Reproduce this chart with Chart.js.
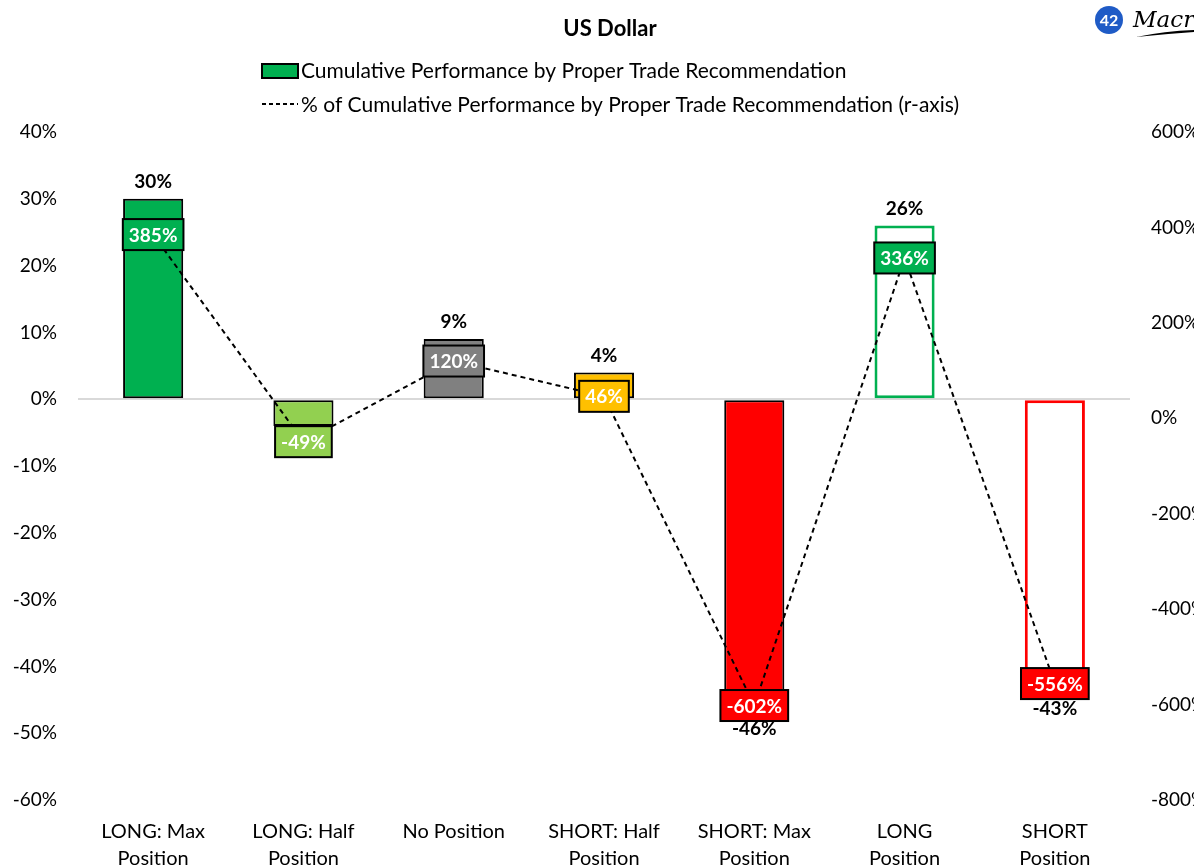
<!DOCTYPE html>
<html>
<head>
<meta charset="utf-8">
<title>US Dollar</title>
<script src="https://cdn.jsdelivr.net/npm/chart.js@4.4.1/dist/chart.umd.min.js"></script>
<style>
  html, body { margin: 0; padding: 0; background: #ffffff; overflow: hidden; }
  #wrap { width: 1194px; height: 868px; position: relative; }
</style>
</head>
<body>
<div id="wrap"><canvas id="chart" width="1194" height="868"></canvas></div>
<script>
// Trade recommendation buckets along the x axis
const categories = [
  ['LONG: Max', 'Position'],
  ['LONG: Half', 'Position'],
  'No Position',
  ['SHORT: Half', 'Position'],
  ['SHORT: Max', 'Position'],
  ['LONG', 'Position'],
  ['SHORT', 'Position']
];

// Cumulative performance per recommendation (left axis, %)
const cumulativePerformance = [30, -4, 9, 4, -46, 26, -43];

// Share of cumulative performance per recommendation (right axis, %)
const shareOfCumulative = [385, -49, 120, 46, -602, 336, -556];

// Axis ranges and steps
const leftAxisRange = [-60, 40, 10];
const rightAxisRange = [-800, 600, 200];

const seriesNames = [
  'Cumulative Performance by Proper Trade Recommendation',
  '% of Cumulative Performance by Proper Trade Recommendation (r-axis)'
];

// Styling per bucket
const barFill   = ['#00B050', '#92D050', '#808080', '#FFC000', '#FF0000', '#FFFFFF', '#FFFFFF'];
const barEdge   = ['#000000', '#000000', '#000000', '#000000', '#000000', '#00B050', '#FF0000'];
const barEdgeW  = [2, 2, 2, 2, 2, 3, 3];
const tagFill   = ['#00B050', '#92D050', '#808080', '#FFC000', '#FF0000', '#00B050', '#FF0000'];

const FONT = 'Lato, "Open Sans", "DejaVu Sans", sans-serif';

const pct = v => v + '%';

// Value labels: bar totals in bold black, line values in filled tags
const valueLabels = {
  id: 'valueLabels',
  afterDatasetsDraw(chart) {
    const ctx = chart.ctx;
    const barMeta = chart.getDatasetMeta(1);
    const lineMeta = chart.getDatasetMeta(0);
    ctx.save();
    ctx.font = 'bold 19px ' + FONT;
    ctx.textAlign = 'center';
    ctx.textBaseline = 'middle';
    ctx.fillStyle = '#000000';
    barMeta.data.forEach((bar, i) => {
      const v = cumulativePerformance[i];
      const y = v >= 0 ? bar.y - 17 : bar.y + 22;
      ctx.fillText(pct(v), bar.x, y);
    });
    ctx.font = 'bold 19px ' + FONT;
    lineMeta.data.forEach((pt, i) => {
      const text = pct(shareOfCumulative[i]);
      const w = ctx.measureText(text).width + 12;
      const h = 31;
      ctx.fillStyle = tagFill[i];
      ctx.fillRect(pt.x - w / 2, pt.y - h / 2, w, h);
      ctx.lineWidth = 2;
      ctx.strokeStyle = '#000000';
      ctx.strokeRect(pt.x - w / 2, pt.y - h / 2, w, h);
      ctx.fillStyle = '#FFFFFF';
      ctx.fillText(text, pt.x, pt.y + 1);
    });
    ctx.restore();
  }
};

// Title, two-row legend and brand mark
const header = {
  id: 'header',
  afterDraw(chart) {
    const ctx = chart.ctx;
    ctx.save();
    ctx.fillStyle = '#000000';
    ctx.textAlign = 'center';
    ctx.textBaseline = 'middle';
    ctx.font = 'bold 22px ' + FONT;
    ctx.fillText('US Dollar', 610, 29);

    const lx = 262;
    ctx.textAlign = 'left';
    ctx.font = '21px ' + FONT;
    // row 1: bar series swatch
    ctx.fillStyle = '#00B050';
    ctx.fillRect(lx, 64, 36, 14);
    ctx.lineWidth = 2;
    ctx.strokeStyle = '#000000';
    ctx.strokeRect(lx, 64, 36, 14);
    ctx.fillStyle = '#000000';
    ctx.fillText(chart.data.datasets[1].label, lx + 39, 71);
    // row 2: dashed line swatch
    ctx.beginPath();
    ctx.setLineDash([4, 3]);
    ctx.moveTo(lx, 104);
    ctx.lineTo(lx + 36, 104);
    ctx.stroke();
    ctx.setLineDash([]);
    ctx.fillText(chart.data.datasets[0].label, lx + 39, 105);

    // brand mark
    ctx.fillStyle = '#1F5BC6';
    ctx.beginPath();
    ctx.arc(1109, 20, 14, 0, Math.PI * 2);
    ctx.fill();
    ctx.fillStyle = '#FFFFFF';
    ctx.textAlign = 'center';
    ctx.font = 'bold 16px ' + FONT;
    ctx.fillText('42', 1109, 21);
    ctx.fillStyle = '#000000';
    ctx.textAlign = 'left';
    ctx.textBaseline = 'alphabetic';
    ctx.font = 'italic 23px "DejaVu Serif", serif';
    ctx.fillText('Macro', 1133, 27);
    ctx.beginPath();
    ctx.moveTo(1136, 37);
    ctx.quadraticCurveTo(1165, 31, 1194, 30);
    ctx.lineTo(1194, 32);
    ctx.quadraticCurveTo(1165, 34, 1136, 37);
    ctx.fill();
    ctx.restore();
  }
};

new Chart(document.getElementById('chart'), {
  data: {
    labels: categories,
    datasets: [
      {
        type: 'line',
        label: seriesNames[1],
        data: shareOfCumulative,
        yAxisID: 'y2',
        borderColor: '#000000',
        borderWidth: 2,
        borderDash: [5, 4],
        pointRadius: 0,
        tension: 0,
        order: 0
      },
      {
        type: 'bar',
        label: seriesNames[0],
        data: cumulativePerformance,
        yAxisID: 'y',
        backgroundColor: barFill,
        borderColor: barEdge,
        borderWidth: barEdgeW,
        borderSkipped: false,
        barPercentage: 0.4,
        categoryPercentage: 1,
        order: 1
      }
    ]
  },
  options: {
    responsive: false,
    animation: false,
    devicePixelRatio: 1,
    layout: { padding: { top: 132, left: 0, right: 0, bottom: 0 } },
    plugins: {
      legend: { display: false },
      title: { display: false },
      tooltip: { enabled: false }
    },
    scales: {
      x: {
        grid: { display: false },
        border: { display: false },
        ticks: {
          color: '#000000',
          font: { family: FONT, size: 20, lineHeight: 1.35 },
          padding: 10,
          maxRotation: 0,
          autoSkip: false
        },
        afterFit(scale) { scale.height = 68; }
      },
      y: {
        position: 'left',
        min: leftAxisRange[0],
        max: leftAxisRange[1],
        border: { display: false },
        grid: {
          drawTicks: false,
          color: ctx => (ctx.tick && ctx.tick.value === 0 ? '#D9D9D9' : 'rgba(0,0,0,0)'),
          lineWidth: 2
        },
        ticks: {
          stepSize: leftAxisRange[2],
          color: '#000000',
          padding: 21,
          font: { family: FONT, size: 19 },
          callback: pct
        },
        afterFit(scale) { scale.width = 78; }
      },
      y2: {
        position: 'right',
        min: rightAxisRange[0],
        max: rightAxisRange[1],
        border: { display: false },
        grid: { display: false, drawTicks: false },
        ticks: {
          stepSize: rightAxisRange[2],
          color: '#000000',
          padding: 21,
          font: { family: FONT, size: 19 },
          callback: pct
        },
        afterFit(scale) { scale.width = 64; }
      }
    }
  },
  plugins: [valueLabels, header]
});
</script>
</body>
</html>
